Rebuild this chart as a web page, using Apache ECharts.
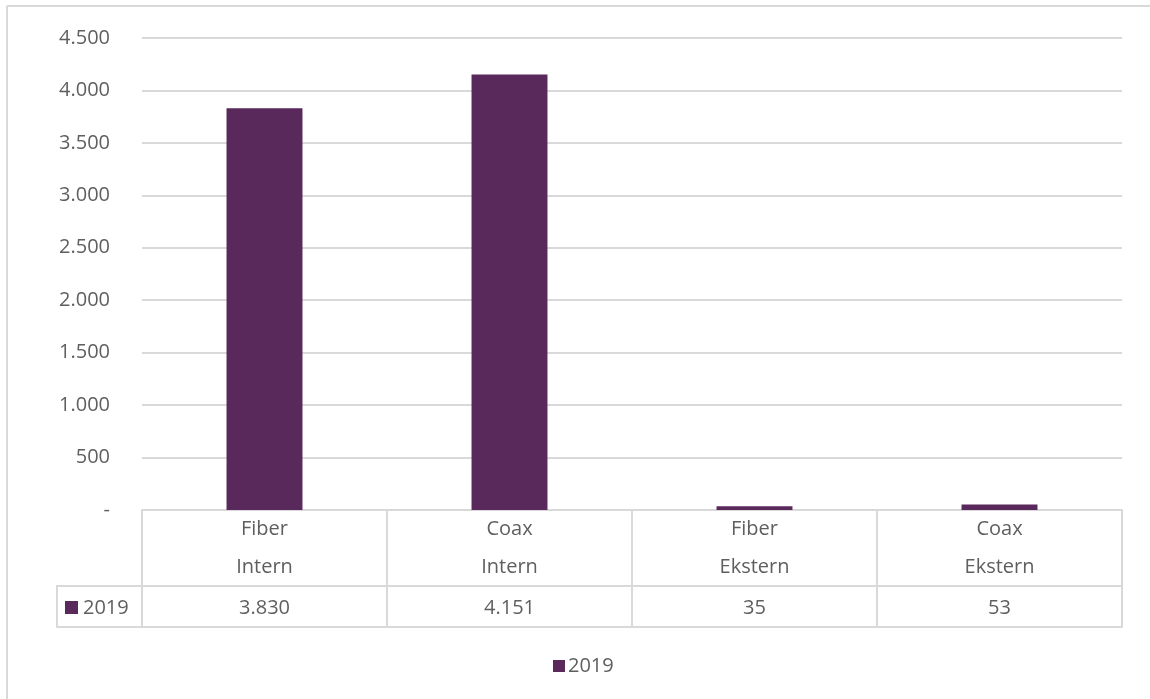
<!DOCTYPE html>
<html>
<head>
<meta charset="utf-8">
<script src="https://cdn.jsdelivr.net/npm/echarts@6/dist/echarts.min.js"></script>
<style>
  html, body { margin: 0; padding: 0; background: #ffffff; }
  #chart { width: 1150px; height: 699px; }
</style>
</head>
<body>
<div id="chart"></div>
<script>
// Connection counts per cable type
const seriesName = '2019';
const categories = ['Fiber\nIntern', 'Coax\nIntern', 'Fiber\nEkstern', 'Coax\nEkstern'];
const values = [3830, 4151, 35, 53];
const yTicks = { min: 0, max: 4500, interval: 500 };

const barColor = '#59295b';
const textColor = '#5f5f5f';
const lineColor = '#d9d9d9';
const fontFamily = "'Open Sans', 'Noto Sans', sans-serif";

// Danish-style thousands separator; zero shown as a dash
function fmt(v) {
  if (v === 0) return '-';
  return String(v).replace(/\B(?=(\d{3})+(?!\d))/g, '.');
}

const chart = echarts.init(document.getElementById('chart'), null, { renderer: 'canvas' });

const plot = { left: 142, right: 28, top: 38, bottom: 189 };
const headerH = 76;
const rowH = 41;

chart.setOption({
  backgroundColor: '#ffffff',
  animation: false,
  textStyle: { fontFamily: fontFamily },
  grid: plot,
  legend: {
    data: [seriesName],
    left: 548,
    top: 651,
    icon: 'rect',
    itemWidth: 12,
    itemHeight: 12,
    itemGap: 4,
    textStyle: { color: textColor, fontSize: 20, fontFamily: fontFamily, padding: [0, 0, 0, -2] }
  },
  xAxis: [
    {
      type: 'category',
      data: categories,
      position: 'bottom',
      axisLine: { show: true, lineStyle: { color: lineColor, width: 2 } },
      axisTick: { show: true, length: headerH + rowH, interval: 0, lineStyle: { color: lineColor, width: 2 } },
      axisLabel: { interval: 0, margin: 0, lineHeight: 38, fontSize: 20, color: textColor, fontFamily: fontFamily }
    },
    {
      type: 'category',
      data: values.map(fmt),
      position: 'bottom',
      offset: headerH,
      axisLine: { show: true, lineStyle: { color: lineColor, width: 2 } },
      axisTick: { show: false },
      axisLabel: { interval: 0, margin: 0, lineHeight: 44, fontSize: 20, color: textColor, fontFamily: fontFamily }
    },
    {
      type: 'category',
      data: categories,
      position: 'bottom',
      offset: headerH + rowH,
      axisLine: { show: true, lineStyle: { color: lineColor, width: 2 } },
      axisTick: { show: false },
      axisLabel: { show: false }
    }
  ],
  yAxis: {
    type: 'value',
    min: yTicks.min,
    max: yTicks.max,
    interval: yTicks.interval,
    axisLine: { show: false },
    axisTick: { show: false },
    splitLine: { lineStyle: { color: lineColor, width: 2 } },
    axisLabel: { margin: 32, fontSize: 20, color: textColor, fontFamily: fontFamily, formatter: fmt }
  },
  series: [
    {
      name: seriesName,
      type: 'bar',
      data: values,
      barWidth: '31%',
      itemStyle: { color: barColor }
    }
  ],
  graphic: [
    // chart frame (top and left edges)
    { type: 'line', shape: { x1: 7, y1: 6, x2: 1150, y2: 6 }, style: { stroke: lineColor, lineWidth: 2 }, silent: true },
    { type: 'line', shape: { x1: 7, y1: 6, x2: 7, y2: 699 }, style: { stroke: lineColor, lineWidth: 2 }, silent: true },
    // series key cell of the data table
    {
      type: 'polyline',
      shape: { points: [[142, 586], [57, 586], [57, 627], [142, 627]] },
      style: { stroke: lineColor, lineWidth: 2, fill: null },
      silent: true
    },
    { type: 'rect', shape: { x: 65, y: 601, width: 13, height: 13 }, style: { fill: barColor }, silent: true },
    {
      type: 'text', x: 83, y: 608,
      style: { text: seriesName, fill: textColor, fontSize: 20, fontFamily: fontFamily, verticalAlign: 'middle', align: 'left' },
      silent: true
    }
  ]
});
</script>
</body>
</html>
